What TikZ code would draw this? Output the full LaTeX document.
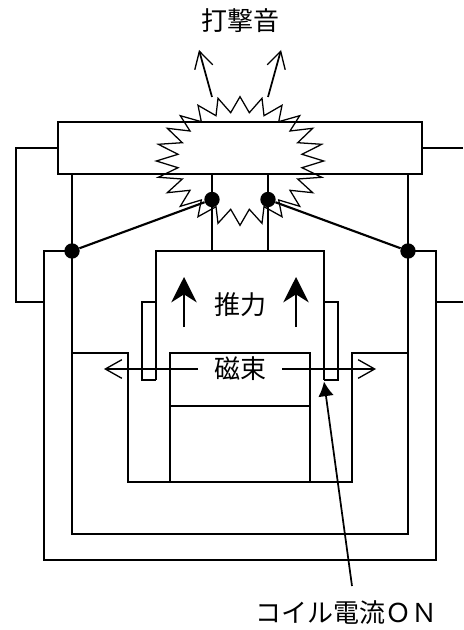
\documentclass[tikz,border=0pt]{standalone}
\usepackage{fontspec}
\setmainfont{Noto Sans CJK JP}
\usetikzlibrary{arrows.meta}
\tikzset{
  ln/.style={line width=1.3pt,black},
  thick ln/.style={line width=1.6pt,black},
  dotn/.style={circle,fill=black,inner sep=0pt,minimum size=11.5pt},
  lab/.style={inner sep=0pt,font=\fontsize{19.5pt}{22pt}\selectfont},
  open/.style={-{Straight Barb[length=12.4pt,width=14pt,line width=1pt]}},
  solid head/.style={-{Stealth[length=19pt,width=19pt,inset=6pt]}},
  ptr head/.style={-{Latex[length=11pt,width=11.7pt]}},
}
\begin{document}
\begin{tikzpicture}[x=0.75pt,y=-0.75pt]
\useasboundingbox (0,0) rectangle (463,630);
% dots
\node[dotn] (d1) at (72,251) {};
\node[dotn] (d2) at (212,199.5) {};
\node[dotn] (d3) at (268,199.5) {};
\node[dotn] (d4) at (408,251) {};
% top bar
\draw[ln] (58,122) rectangle (422,174);
\draw[ln] (58,148) -- (16,148) -- (16,302) -- (44,302);
\draw[ln] (422,148) -- (463,148);
\draw[ln] (436,302) -- (463,302);
% outer U
\draw[ln] (d1.center) -- (44,251) -- (44,560) -- (436,560) -- (436,251) -- (d4.center);
% middle U
\draw[ln] (72,174) -- (72,534) -- (408,534) -- (408,174);
% yoke
\draw[ln] (72,353) -- (128,353) -- (128,482) -- (352,482) -- (352,353) -- (408,353);
% pole
\draw[ln] (170,353) rectangle (310,482);
\draw[ln] (170,406) -- (310,406);
% bobbin
\draw[ln] (156,380) -- (156,251) -- (324,251) -- (324,380);
\draw[ln] (156,302) -- (142,302) -- (142,380) -- (156,380);
\draw[ln] (324,302) -- (338,302) -- (338,380) -- (324,380);
% rods
\draw[ln] (212,174) -- (212,251);
\draw[ln] (268,174) -- (268,251);
% spring
\draw[thick ln] (d1) -- (d2);
\draw[thick ln] (d4) -- (d3);
% star
\draw[line width=0.95pt,line join=miter]
 (240,96.7) -- (249.3,112.7) -- (262,98.3) -- (264,115.7) -- (282,105.3) -- (278.7,121.7) -- (299.7,115.7) -- (290,131) -- (312.7,128.3) -- (297.7,142.7) -- (321.7,144.3) -- (302,154.3) -- (323.7,161) -- (302,167.7) -- (321.7,177.3) -- (297.7,179) -- (312.7,192.7) -- (290,190.3) -- (299.7,206.3) -- (278.7,200) -- (282,216.7) -- (264,206.7) -- (262,223.3) -- (249.3,209.3) -- (240,225.3)
 -- (230.7,209.3) -- (218,223.3) -- (216,206.7) -- (198,216.7) -- (201.3,200) -- (180.3,206.3) -- (190,190.3) -- (167.3,192.7) -- (182.3,179) -- (158.3,177.3) -- (178,167.7) -- (156.3,161) -- (178,154.3) -- (158.3,144.3) -- (182.3,142.7) -- (167.3,128.3) -- (190,131) -- (180.3,115.7) -- (201.3,121.7) -- (198,105.3) -- (216,115.7) -- (218,98.3) -- (230.7,112.7) -- cycle;
% labels
\node[lab] (t1) at (240,21) {打撃音};
\node[lab] (t2) at (240,305) {推力};
\node[lab] (t3) at (240,369) {磁束};
\node[lab,anchor=east] (t4) at (438,613) {コイル電流ＯＮ};
% sound arrows
\coordinate (sa) at (212,97); \coordinate (sat) at (199,50);
\coordinate (sb) at (268,97); \coordinate (sbt) at (281,50);
\draw[ln,open] (sa) -- (sat);
\draw[ln,open] (sb) -- (sbt);
% thrust
\coordinate (ta) at (184,327); \coordinate (tat) at (184,277);
\coordinate (tb) at (296,327); \coordinate (tbt) at (296,277);
\draw[line width=1.5pt,solid head] (ta) -- (tat);
\draw[line width=1.5pt,solid head] (tb) -- (tbt);
% flux
\draw[ln,open] (198,369) -- (104,369);
\draw[ln,open] (282,369) -- (376,369);
% pointer
\coordinate (pa) at (352,586); \coordinate (pat) at (324,381.5);
\draw[ln,ptr head] (pa) -- (pat);
\end{tikzpicture}
\end{document}
